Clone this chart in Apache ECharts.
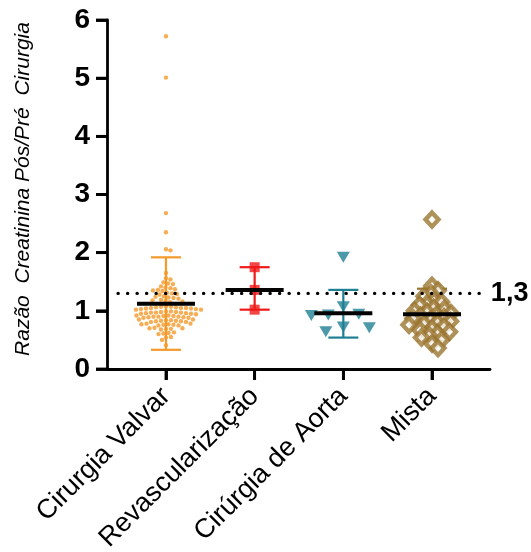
<!DOCTYPE html>
<html><head><meta charset="utf-8">
<script src="https://cdn.jsdelivr.net/npm/echarts@6/dist/echarts.min.js"></script>
<style>html,body{margin:0;padding:0;background:#fff}#c{width:531px;height:552px}</style>
</head><body><div id="c"></div>
<script>
const categories = ['Cirurgia Valvar', 'Revascularização', 'Cirúrgia de Aorta', 'Mista'];
const valvar = [5.72, 5.01, 2.68, 2.35, 2.06, 2.04,
  1.65, 1.56, 1.54, 1.49, 1.47, 1.46, 1.42, 1.40, 1.39,
  1.37, 1.36, 1.35, 1.34, 1.31, 1.30, 1.29, 1.28,
  1.25, 1.24, 1.23, 1.22, 1.21, 1.19, 1.18, 1.17, 1.16, 1.15,
  1.08, 1.07, 1.07, 1.06, 1.06, 1.05, 1.05, 1.05, 1.04, 1.04, 1.03, 1.03, 1.02, 1.02,
  0.99, 0.99, 0.98, 0.98, 0.97, 0.97, 0.97, 0.96, 0.96, 0.95, 0.95, 0.94,
  0.92, 0.92, 0.91, 0.91, 0.90, 0.90, 0.90, 0.89, 0.89, 0.88, 0.88,
  0.85, 0.85, 0.84, 0.84, 0.83, 0.83, 0.82, 0.82, 0.81, 0.81,
  0.78, 0.78, 0.77, 0.77, 0.76, 0.76, 0.75, 0.75,
  0.71, 0.70, 0.70, 0.69, 0.69, 0.68,
  0.63, 0.62, 0.61, 0.60,
  0.55, 0.54, 0.50, 0.41];
const revasc = [1.75, 1.36, 1.02];
const aorta = [1.92, 1.07, 0.94, 0.93, 0.92, 0.72, 0.71, 0.64];
const mista = [2.57,
  1.43, 1.35, 1.30, 1.25,
  1.18, 1.15, 1.12, 1.10,
  1.05, 1.03, 1.00, 0.98, 0.96,
  0.93, 0.91, 0.89, 0.87, 0.85,
  0.82, 0.80, 0.78, 0.76, 0.73,
  0.70, 0.67, 0.64, 0.61, 0.58,
  0.54, 0.50, 0.44, 0.36];
const means  = [1.12, 1.36, 0.96, 0.94];
const sdLow  = [0.33, 1.02, 0.54, 0.49];
const sdHigh = [1.92, 1.75, 1.36, 1.38];
const yTicks = [0, 1, 2, 3, 4, 5, 6];
const xTicks = [1, 2, 3, 4];
const refValue = 1.3;
const refLabel = '1,3';
const yTitle = 'Razão  Creatinina Pós/Pré  Cirurgia';

const colors = ['#F39A2B', '#F01818', '#1E7F93', '#9B7631'];
const groups = [valvar, revasc, aorta, mista];
const X_MIN = 0.335, X_MAX = 4.654;

const chart = echarts.init(document.getElementById('c'), null, {renderer: 'canvas'});
const font = 'Liberation Sans, Arial, sans-serif';
const base = {
  animation: false,
  backgroundColor: '#fff',
  grid: {left: 107, right: 41, top: 20, bottom: 183, containLabel: false, outerBoundsMode: 'none'},
  xAxis: {
    type: 'value', min: X_MIN, max: X_MAX,
    splitLine: {show: false},
    axisLine: {show: true, lineStyle: {color: '#000', width: 2.8}},
    axisTick: {show: true, customValues: xTicks, length: 11, lineStyle: {color: '#000', width: 2.8}},
    axisLabel: {customValues: xTicks, formatter: v => categories[Math.round(v) - 1] || '',
      rotate: 45, fontSize: 27, color: '#000', fontFamily: font, margin: 23}
  },
  yAxis: {
    type: 'value', min: 0, max: 6, interval: 1,
    splitLine: {show: false},
    axisLine: {show: true, lineStyle: {color: '#000', width: 2.8}},
    axisTick: {show: true, customValues: yTicks, length: 11, lineStyle: {color: '#000', width: 2.8}},
    axisLabel: {customValues: yTicks, fontSize: 28, fontWeight: 'bold', color: '#000', fontFamily: font, margin: 17}
  },
  series: []
};
chart.setOption(base);

const px = v => chart.convertToPixel({gridIndex: 0}, v);
const p0 = px([1, 0]);
const p1 = px([2, 1]);
const sx = p1[0] - p0[0];
const sy = p0[1] - p1[1];
const axisX = px([X_MIN, 0])[0];
const axisY = p0[1];

const graphics = [{
  type: 'text', x: 23, y: 189, rotation: Math.PI / 2,
  style: {text: yTitle, font: 'italic 21px ' + font, fill: '#000', align: 'center', verticalAlign: 'middle'}
}];
yTicks.forEach(t => {
  const y = px([X_MIN, t])[1];
  graphics.push({type: 'rect', z: 100, shape: {x: axisX - 11, y: y - 1.4, width: 11, height: 2.8}, style: {fill: '#000'}});
});
xTicks.forEach(t => {
  const x = px([t, 0])[0];
  graphics.push({type: 'rect', z: 100, shape: {x: x - 1.4, y: axisY, width: 2.8, height: 11}, style: {fill: '#000'}});
});

function swarm(vals, D) {
  const order = vals.map((v, i) => i).sort((a, b) => vals[b] - vals[a]);
  const placed = [];
  const off = new Array(vals.length);
  for (const i of order) {
    const y = vals[i] * sy;
    let best = 0;
    for (let k = 0; k < 400; k++) {
      const cands = k === 0 ? [0] : [k * 0.5, -k * 0.5];
      let found = null;
      for (const c of cands) {
        if (placed.every(p => (p.x - c) * (p.x - c) + (p.y - y) * (p.y - y) >= D * D)) { found = c; break; }
      }
      if (found !== null) { best = found; break; }
    }
    placed.push({x: best, y});
    off[i] = best / sx;
  }
  return off;
}

const markerCfg = [
  {symbol: 'circle', size: 4.4, D: 4.6, style: {color: colors[0]}},
  {symbol: 'rect', size: 10, D: 10, style: {color: colors[1]}},
  {symbol: 'triangle', size: [13, 11], rotate: 180, D: 17, style: {color: colors[2]}},
  {symbol: 'diamond', size: [13, 14], D: 7.5, style: {color: '#fff', borderColor: colors[3], borderWidth: 4.4}}
];

const series = [];
series.push({
  type: 'custom', z: 1,
  data: categories.map((c, i) => [i + 1, means[i], sdLow[i], sdHigh[i]]),
  renderItem: (params, api) => {
    const i = params.dataIndex;
    const lo = api.coord([api.value(0), api.value(2)]);
    const hi = api.coord([api.value(0), api.value(3)]);
    const hw = 15;
    const st = {stroke: colors[i], lineWidth: 2.2};
    return {type: 'group', children: [
      {type: 'line', shape: {x1: lo[0], y1: lo[1], x2: hi[0], y2: hi[1]}, style: st},
      {type: 'line', shape: {x1: lo[0] - hw, y1: lo[1], x2: lo[0] + hw, y2: lo[1]}, style: st},
      {type: 'line', shape: {x1: hi[0] - hw, y1: hi[1], x2: hi[0] + hw, y2: hi[1]}, style: st}
    ]};
  }
});
groups.forEach((vals, g) => {
  const m = markerCfg[g];
  const off = swarm(vals, m.D);
  series.push({
    type: 'scatter', z: 3, name: categories[g],
    symbol: m.symbol, symbolSize: m.size, symbolRotate: m.rotate || 0,
    itemStyle: m.style,
    data: vals.map((v, i) => [g + 1 + off[i], v])
  });
});
series.push({
  type: 'custom', z: 5,
  data: categories.map((c, i) => [i + 1, means[i]]),
  renderItem: (params, api) => {
    const p = api.coord([api.value(0), api.value(1)]);
    const hw = 29;
    return {type: 'line', shape: {x1: p[0] - hw, y1: p[1], x2: p[0] + hw, y2: p[1]},
      style: {stroke: '#000', lineWidth: 4}};
  }
});
series.push({
  type: 'line', z: 4, symbol: 'none',
  data: [[0.46, refValue], [4.63, refValue]],
  lineStyle: {color: '#000', width: 3.4, type: [0.1, 9.4], cap: 'round'},
  endLabel: {show: true, formatter: refLabel, fontSize: 27, fontWeight: 'bold', color: '#000', fontFamily: font, distance: 3}
});

chart.setOption({series: series, graphic: graphics});
</script>
</body></html>
